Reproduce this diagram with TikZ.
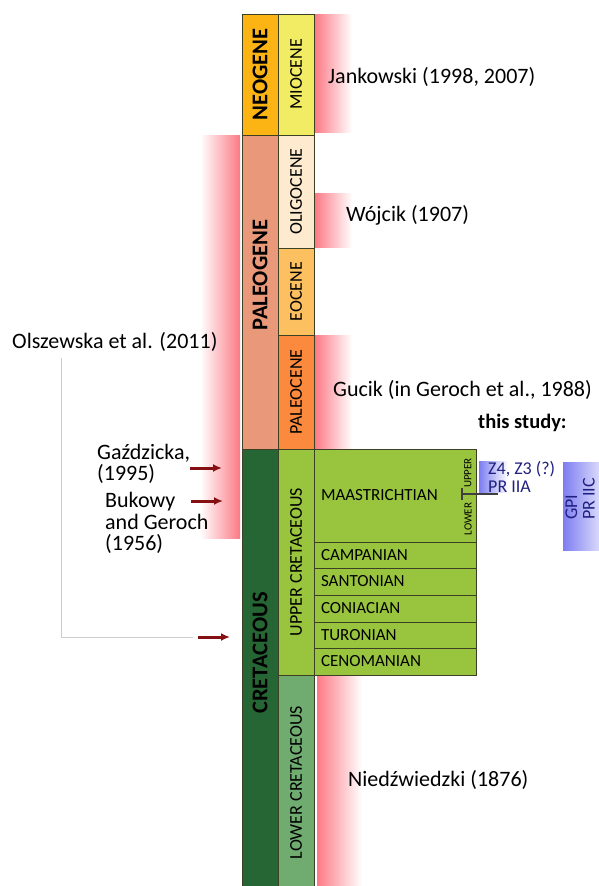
\documentclass[tikz,border=0pt]{standalone}
\usepackage{fontspec}
\setmainfont{Carlito}
\usetikzlibrary{arrows.meta}
\definecolor{neogenecol}{RGB}{252,180,20}
\definecolor{paleogenecol}{RGB}{233,153,122}
\definecolor{cretcol}{RGB}{38,102,52}
\definecolor{miocenecol}{RGB}{242,236,100}
\definecolor{oligocenecol}{RGB}{254,234,206}
\definecolor{eocenecol}{RGB}{253,192,96}
\definecolor{paleocenecol}{RGB}{251,138,62}
\definecolor{uppercretcol}{RGB}{152,196,62}
\definecolor{lowercretcol}{RGB}{112,172,112}
\definecolor{edgecol}{RGB}{60,64,36}
\definecolor{refpink}{RGB}{252,122,134}
\definecolor{studyblue}{RGB}{125,125,242}
\definecolor{studytext}{RGB}{32,32,128}
\definecolor{arrowred}{RGB}{132,16,20}
\definecolor{guidegray}{RGB}{205,205,205}

\begin{document}
\begin{tikzpicture}[
    x=1pt, y=-1pt,
    font=\fontsize{22}{21.5}\selectfont,
    era/.style={
        draw=edgecol,
        line width=0.8pt,
        rotate=90,
        minimum height=36pt,
        inner sep=0pt,
        font=\bfseries\fontsize{22.5}{22.5}\selectfont
    },
    epoch/.style={
        era,
        font=\fontsize{18}{18}\selectfont
    },
    stage/.style={
        draw=edgecol,
        line width=0.8pt,
        fill=uppercretcol,
        minimum width=162pt,
        text width=148pt,
        inner xsep=7pt,
        inner ysep=0pt,
        align=left,
        font=\fontsize{17}{17}\selectfont
    },
    subage/.style={rotate=90, inner sep=0pt, font=\fontsize{11}{11}\selectfont},
    source/.style={anchor=west, inner sep=0pt, align=left},
    study/.style={inner sep=0pt, align=left, text=studytext, font=\fontsize{18}{17.5}\selectfont},
    refarrow/.style={-{Latex[length=9pt,width=8pt]}, line width=3pt, draw=arrowred},
    guide/.style={draw=guidegray, line width=1pt}
]
\useasboundingbox (0,0) rectangle (599,886);

% Reference ranges
\shade[left color=refpink, right color=white] (315,14) rectangle (352,132);
\shade[left color=refpink, right color=white] (315,193) rectangle (352,247);
\shade[left color=refpink, right color=white] (315,335) rectangle (352,449);
\shade[left color=refpink, right color=white] (317,676) rectangle (362,886);
\shade[left color=white, right color=refpink] (200,135) rectangle (240,538);

% Eras
\node[era, fill=neogenecol, minimum width=121pt] (neogene) at (260,74.5) {NEOGENE};
\node[era, fill=paleogenecol, minimum width=314pt] (paleogene) at (260,292) {};
\node[era, draw=none] (paleogenelbl) at (260,275) {PALEOGENE};
\node[era, fill=cretcol, minimum width=441pt] (cretaceous) at (260,669.5) {};
\node[era, draw=none] (cretaceouslbl) at (260,653) {CRETACEOUS};

% Epochs
\node[epoch, fill=miocenecol, minimum width=121pt] (miocene) at (296,74.5) {MIOCENE};
\node[epoch, fill=oligocenecol, minimum width=113pt] (oligocene) at (296,191.5) {OLIGOCENE};
\node[epoch, fill=eocenecol, minimum width=87pt] (eocene) at (296,291.5) {EOCENE};
\node[epoch, fill=paleocenecol, minimum width=114pt] (paleocene) at (296,392) {PALEOCENE};
\node[epoch, fill=uppercretcol, minimum width=226pt] (uppercret) at (296,562) {UPPER CRETACEOUS};
\node[epoch, fill=lowercretcol, minimum width=215pt] (lowercret) at (296,782.5) {LOWER CRETACEOUS};

% Stages
\node[stage, minimum height=93pt] (maastr) at (395,495.5) {MAASTRICHTIAN};
\node[stage, minimum height=26pt] (campan) at (395,555) {CAMPANIAN};
\node[stage, minimum height=27pt] (santon) at (395,581.5) {SANTONIAN};
\node[stage, minimum height=27pt] (coniac) at (395,608.5) {CONIACIAN};
\node[stage, minimum height=26pt] (turon) at (395,635) {TURONIAN};
\node[stage, minimum height=27pt] (cenom) at (395,661.5) {CENOMANIAN};
\node[subage] (maupper) at (468,473) {UPPER};
\node[subage] (malower) at (468,519) {LOWER};
\coordinate (ulbound) at (462,494);
\coordinate (ulend) at (498,494);
\draw[line width=1.2pt, draw=black!75] (462,488) -- (462,500);
\draw[line width=1.2pt, draw=black!75] (ulbound) -- (ulend);

% Sources
\node[source] (jankowski) at (328,77) {Jankowski (1998, 2007)};
\node[source] (wojcik) at (346,215) {Wójcik (1907)};
\node[source] (gucik) at (333,390) {Gucik (in Geroch et al., 1988)};
\node[source] (niedz) at (348,780) {Niedźwiedzki (1876)};
\node[source] (olsz) at (12,342) {Olszewska et al. (2011)};
\node[source] (gazd) at (97,464) {Gaździcka,\\(1995)};
\node[source] (bukowy) at (105,523) {Bukowy\\and Geroch\\(1956)};

% This study
\node[source, font=\bfseries\fontsize{20.5}{20.5}\selectfont] (thisstudy) at (478,423) {this study:};
\shade[left color=studyblue, right color=white] (479,461) rectangle (508,492);
\shade[left color=studyblue, right color=studyblue!30] (563,462) rectangle (599,550);
\node[study, anchor=west] (zones) at (488,477) {Z4, Z3 (?)\\PR IIA};
\node[study, rotate=90, anchor=west] (gpi) at (580,520) {GPI\\PR IIC};

% Arrows
\coordinate (gazdtail) at (190,468);
\coordinate (gazdhead) at (222,468);
\coordinate (bukowytail) at (191,501);
\coordinate (bukowyhead) at (223,501);
\coordinate (olszfoot) at (61,358);
\coordinate (olsztail) at (198,637);
\coordinate (olszhead) at (230,637);
\draw[refarrow] (gazdtail) -- (gazdhead);
\draw[refarrow] (bukowytail) -- (bukowyhead);
\draw[guide, shorten >=5pt] (olszfoot) |- (olsztail);
\draw[refarrow] (olsztail) -- (olszhead);

\end{tikzpicture}
\end{document}
